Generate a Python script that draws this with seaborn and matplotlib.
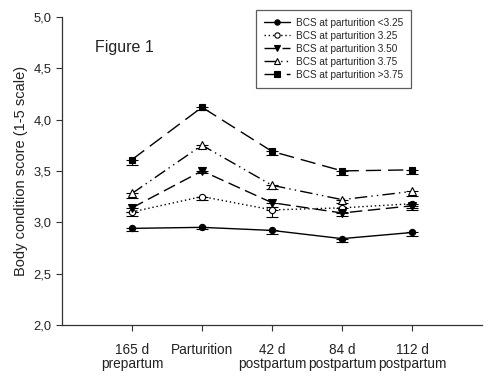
import pandas as pd
import matplotlib.pyplot as plt
import seaborn as sns

# Data
periods = ['165 d\nprepartum', 'Parturition', '42 d\npostpartum', '84 d\npostpartum', '112 d\npostpartum']
groups = ['BCS at parturition <3.25', 'BCS at parturition 3.25', 'BCS at parturition 3.50',
          'BCS at parturition 3.75', 'BCS at parturition >3.75']
bcs_lt325 = [2.94, 2.95, 2.92, 2.84, 2.90]
bcs_325 = [3.10, 3.25, 3.12, 3.14, 3.18]
bcs_350 = [3.14, 3.50, 3.19, 3.09, 3.16]
bcs_375 = [3.28, 3.75, 3.36, 3.22, 3.30]
bcs_gt375 = [3.61, 4.12, 3.69, 3.50, 3.51]
se_lt325 = [0.03, 0.02, 0.03, 0.03, 0.03]
se_325 = [0.04, 0.03, 0.07, 0.04, 0.04]
se_350 = [0.04, 0.02, 0.04, 0.03, 0.04]
se_375 = [0.04, 0.03, 0.04, 0.03, 0.04]
se_gt375 = [0.05, 0.03, 0.04, 0.04, 0.04]

values = [bcs_lt325, bcs_325, bcs_350, bcs_375, bcs_gt375]
errors = [se_lt325, se_325, se_350, se_375, se_gt375]

rows = []
for g, v in zip(groups, values):
    for i, y in enumerate(v):
        rows.append({'pos': i, 'bcs': y, 'group': g})
df = pd.DataFrame(rows)

sns.set_style("ticks")
plt.rcParams['font.family'] = ['Liberation Sans', 'DejaVu Sans']

fig = plt.figure(figsize=(4.84, 3.76), dpi=100)
ax = fig.add_axes([0.128, 0.136, 0.868, 0.819])

styles = {
    groups[0]: dict(marker='o', ls='-', mfc='black', ms=4.5),
    groups[1]: dict(marker='o', ls=(0, (1, 2)), mfc='white', ms=4.5),
    groups[2]: dict(marker='v', ls=(0, (9, 4)), mfc='black', ms=5.5),
    groups[3]: dict(marker='^', ls=(0, (9, 3, 1, 3, 1, 3)), mfc='white', ms=5.5),
    groups[4]: dict(marker='s', ls=(0, (11, 5)), mfc='black', ms=5),
}

for g, e in zip(groups, errors):
    sub = df[df['group'] == g]
    st = styles[g]
    ax.errorbar(sub['pos'], sub['bcs'], yerr=[e, [0] * len(e)], fmt='none',
                ecolor='black', elinewidth=0.8, capsize=4, capthick=0.8, zorder=2)
    sns.lineplot(data=sub, x='pos', y='bcs', ax=ax, color='black', linewidth=1.0,
                 linestyle=st['ls'], marker=st['marker'], markersize=st['ms'],
                 markerfacecolor=st['mfc'], markeredgecolor='black', markeredgewidth=0.8,
                 label=g, zorder=3)

ax.set_xlim(-1, 5)
ax.set_ylim(2.0, 5.0)
ax.set_xticks(range(len(periods)))
ax.set_xticklabels(periods, fontsize=9.8, linespacing=1.05)
ax.set_yticks([2.0, 2.5, 3.0, 3.5, 4.0, 4.5, 5.0])
ax.set_yticklabels(['2,0', '2,5', '3,0', '3,5', '4,0', '4,5', '5,0'], fontsize=9.3)
ax.tick_params(axis='both', direction='out', length=4, width=0.8, colors='#333333', labelcolor='#222222')
ax.tick_params(axis='x', pad=9)
ax.set_xlabel('')
ax.set_ylabel('Body condition score (1-5 scale)', fontsize=10.5, color='#222222')
for s in ['left', 'bottom']:
    ax.spines[s].set_linewidth(0.9)
    ax.spines[s].set_color('#333333')
sns.despine(ax=ax)

ax.text(0.079, 0.90, 'Figure 1', transform=ax.transAxes, fontsize=11.5, color='#222222', va='center')

leg = ax.legend(loc='upper left', bbox_to_anchor=(0.45, 1.04), fontsize=7.2, frameon=True,
                fancybox=False, edgecolor='#333333', handlelength=2.6, borderpad=0.8,
                labelspacing=0.3, handletextpad=0.6, markerscale=0.85)
leg.get_frame().set_linewidth(0.9)

fig.savefig('out.png', dpi=100)
